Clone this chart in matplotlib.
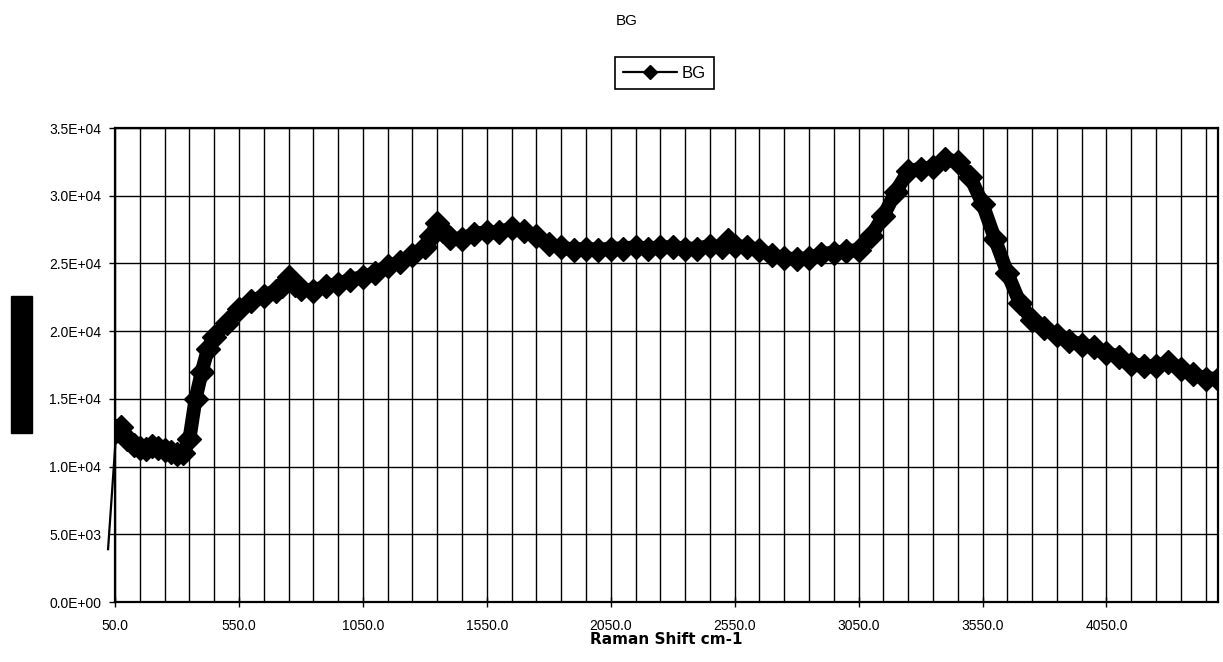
import numpy as np
import matplotlib.pyplot as plt
from matplotlib.ticker import FuncFormatter, MultipleLocator, FixedLocator
from matplotlib.patches import Rectangle

plt.rcParams['font.family'] = ['Liberation Sans', 'DejaVu Sans']

# Raman shift (cm-1) and background counts
shift = [22, 55, 75, 100, 125, 150, 175, 200, 225, 250, 275, 300, 325, 350,
         375, 400, 425, 450, 500, 550, 600, 650, 700, 725, 750, 775, 800,
         850, 900, 950, 1000, 1050, 1100, 1150, 1200, 1250, 1300, 1325,
         1350, 1375, 1400, 1450, 1500, 1550, 1600, 1650, 1700, 1750, 1800,
         1850, 1900, 1950, 2000, 2050, 2100, 2150, 2200, 2250, 2300, 2350,
         2400, 2450, 2500, 2525, 2550, 2600, 2650, 2700, 2750, 2800, 2850,
         2900, 2950, 3000, 3050, 3100, 3150, 3200, 3250, 3300, 3350, 3400,
         3450, 3500, 3550, 3600, 3650, 3700, 3750, 3800, 3850, 3900, 3950,
         4000, 4050, 4100, 4150, 4200, 4250, 4300, 4350, 4400, 4450, 4500]
bg = [3900, 12600, 12900, 12000, 11600, 11400, 11300, 11500, 11400, 11200,
      11100, 10900, 11000, 12000, 15000, 17000, 18700, 19600, 20600, 21600,
      22200, 22600, 23000, 23300, 24000, 23400, 23100, 23000, 23300, 23500,
      23800, 24000, 24300, 24800, 25100, 25600, 26200, 27000, 28000, 27400,
      26900, 26800, 27200, 27300, 27300, 27600, 27400, 27000, 26400, 26200,
      26000, 26100, 26000, 26100, 26100, 26200, 26100, 26200, 26200, 26100,
      26100, 26300, 26200, 26700, 26300, 26200, 26000, 25600, 25400, 25300,
      25400, 25700, 25800, 25900, 26000, 27000, 28500, 30300, 31800, 32000,
      32100, 32700, 32500, 31400, 29400, 26800, 24300, 22100, 20800, 20200,
      19700, 19300, 19000, 18800, 18400, 18100, 17600, 17400, 17400, 17700,
      17200, 16800, 16500, 16500]

x = np.array(shift)
y = np.array(bg)

fig = plt.figure(figsize=(12.23, 6.62), dpi=100)
W, H = 1223, 662
ax = fig.add_axes([115 / W, 1 - 602 / H, (1218 - 115) / W, (602 - 128) / H])

# thin lead-in segment runs past the axis, the marked series stays inside
ax.plot(x[:2], y[:2], color='black', lw=1.6, clip_on=False, zorder=3,
        label='_nolegend_')
ax.plot(x[1:], y[1:], color='black', lw=10, marker='D', ms=12,
        solid_joinstyle='round', solid_capstyle='round', zorder=3,
        label='BG')

ax.set_xlim(50, 4500)
ax.set_ylim(0, 35000)

ax.xaxis.set_major_locator(FixedLocator(np.arange(50, 4100, 500)))
ax.xaxis.set_minor_locator(FixedLocator(np.arange(150, 4500, 100)))
ax.xaxis.set_major_formatter(FuncFormatter(lambda v, p: f'{v:.1f}'))
ax.yaxis.set_major_locator(MultipleLocator(5000))
ax.yaxis.set_major_formatter(FuncFormatter(lambda v, p: f'{v:.1E}'))

ax.grid(True, which='both', axis='x', color='black', lw=1)
ax.grid(True, which='major', axis='y', color='black', lw=1)
ax.set_axisbelow(True)

ax.tick_params(axis='x', which='major', direction='inout', length=7,
               width=1, pad=9, labelsize=10)
ax.tick_params(axis='x', which='minor', length=0)
ax.tick_params(axis='y', direction='out', length=4, width=1, pad=6,
               labelsize=10)
for s in ax.spines.values():
    s.set_linewidth(1.6)

fig.text(627 / W, 1 - 21 / H, 'BG', ha='center', va='center', fontsize=11)
leg = ax.legend(loc='center', bbox_to_anchor=(664.5 / W, 1 - 73 / H),
                bbox_transform=fig.transFigure, fancybox=False,
                edgecolor='black', fontsize=12, handlelength=3.2,
                handletextpad=0.3, borderpad=0.5, framealpha=1)
leg.get_frame().set_linewidth(1.2)
for h in leg.legend_handles:
    h.set_linewidth(1.6)
    h.set_markersize(7)

fig.text(666 / W, 1 - 640 / H, 'Raman Shift cm-1', ha='center', va='center',
         fontsize=11, fontweight='bold', family='DejaVu Sans')

# redacted y-axis title
fig.patches.append(Rectangle((11 / W, 1 - 433 / H), 21 / W, 137 / H,
                             transform=fig.transFigure, color='black'))

fig.savefig('out.png', dpi=100)
